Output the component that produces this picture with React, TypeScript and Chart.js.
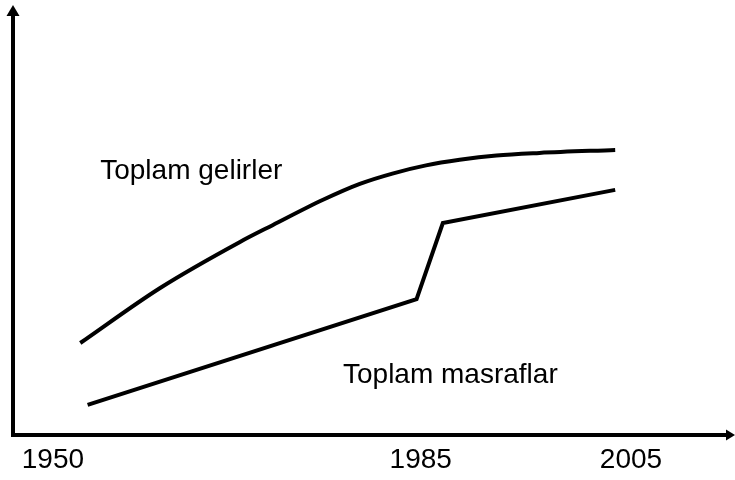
import React, { useEffect, useRef } from "react";
import { Chart, registerables } from "chart.js";

Chart.register(...registerables);

// X tick labels (years)
const tickYears = [1950, 1985, 2005];

// "Toplam gelirler" (total revenues) curve
const incomeYears = [1952.6, 1960.2, 1967.8, 1970.9, 1975.7, 1979.2, 1982.3, 1985.5, 1988.7, 1992.2, 1996.3, 2003.5];
const incomeValues = [21.4, 34.2, 44.9, 48.8, 54.7, 58.4, 60.8, 62.7, 64.0, 65.0, 65.6, 66.3];

// "Toplam masraflar" (total expenses) polyline
const expenseYears = [1953.3, 1984.6, 1987.1, 2003.5];
const expenseValues = [7.0, 31.6, 49.3, 57.0];

// Series captions and where they sit (data coordinates)
const seriesLabels = ["Toplam gelirler", "Toplam masraflar"];
const labelAnchorYears = [1954.5, 1977.6];
const labelAnchorValues = [59.5, 12.1];

const FONT = '"Liberation Sans", Arial, Helvetica, sans-serif';

const axesAndLabels = {
  id: "axesAndLabels",
  afterDatasetsDraw(chart: any) {
    const { ctx, chartArea, scales } = chart;
    const { left, right, top, bottom } = chartArea;
    ctx.save();
    ctx.strokeStyle = "#000";
    ctx.fillStyle = "#000";
    ctx.lineWidth = 4;
    ctx.lineCap = "butt";
    // y axis with arrow
    ctx.beginPath();
    ctx.moveTo(left, bottom + 2);
    ctx.lineTo(left, top + 10);
    ctx.stroke();
    ctx.beginPath();
    ctx.moveTo(left, top);
    ctx.lineTo(left - 6.5, top + 11);
    ctx.lineTo(left + 6.5, top + 11);
    ctx.closePath();
    ctx.fill();
    // x axis with arrow
    ctx.beginPath();
    ctx.moveTo(left - 2, bottom);
    ctx.lineTo(right - 8, bottom);
    ctx.stroke();
    ctx.beginPath();
    ctx.moveTo(right, bottom);
    ctx.lineTo(right - 9, bottom - 5.5);
    ctx.lineTo(right - 9, bottom + 5.5);
    ctx.closePath();
    ctx.fill();
    // series captions
    ctx.font = "28px " + FONT;
    ctx.textAlign = "left";
    ctx.textBaseline = "alphabetic";
    seriesLabels.forEach((t, i) => {
      ctx.fillText(
        t,
        scales.x.getPixelForValue(labelAnchorYears[i]),
        scales.y.getPixelForValue(labelAnchorValues[i])
      );
    });
    ctx.restore();
  },
};

export default function App() {
  const ref = useRef<HTMLCanvasElement | null>(null);

  useEffect(() => {
    if (!ref.current) return;
    const chart = new Chart(ref.current, {
      type: "line",
      data: {
        datasets: [
          {
            label: seriesLabels[0],
            data: incomeYears.map((x, i) => ({ x, y: incomeValues[i] })),
            borderColor: "#000",
            borderWidth: 4,
            pointRadius: 0,
            fill: false,
            cubicInterpolationMode: "monotone",
          },
          {
            label: seriesLabels[1],
            data: expenseYears.map((x, i) => ({ x, y: expenseValues[i] })),
            borderColor: "#000",
            borderWidth: 4,
            pointRadius: 0,
            fill: false,
            tension: 0,
          },
        ],
      },
      options: {
        responsive: false,
        animation: false,
        layout: { padding: { left: 13, top: 5, right: 0, bottom: 0 } },
        plugins: { legend: { display: false }, tooltip: { enabled: false } },
        scales: {
          x: {
            type: "linear",
            min: 1946.2,
            max: 2014.9,
            grid: { display: false, drawTicks: false },
            border: { display: false },
            afterBuildTicks: (axis: any) => {
              axis.ticks = tickYears.map((v) => ({ value: v }));
            },
            afterFit: (axis: any) => {
              axis.height = 45;
            },
            ticks: {
              autoSkip: false,
              maxRotation: 0,
              padding: 8.5,
              color: "#000",
              font: { size: 28, family: FONT },
              callback: (v: any) => String(v),
            },
          },
          y: {
            type: "linear",
            display: false,
            min: 0,
            max: 100,
          },
        },
      },
      plugins: [axesAndLabels],
    });
    return () => chart.destroy();
  }, []);

  return (
    <canvas
      ref={ref}
      width={735}
      height={480}
      style={{ position: "fixed", left: 0, top: 0, display: "block", background: "#fff" }}
    />
  );
}
